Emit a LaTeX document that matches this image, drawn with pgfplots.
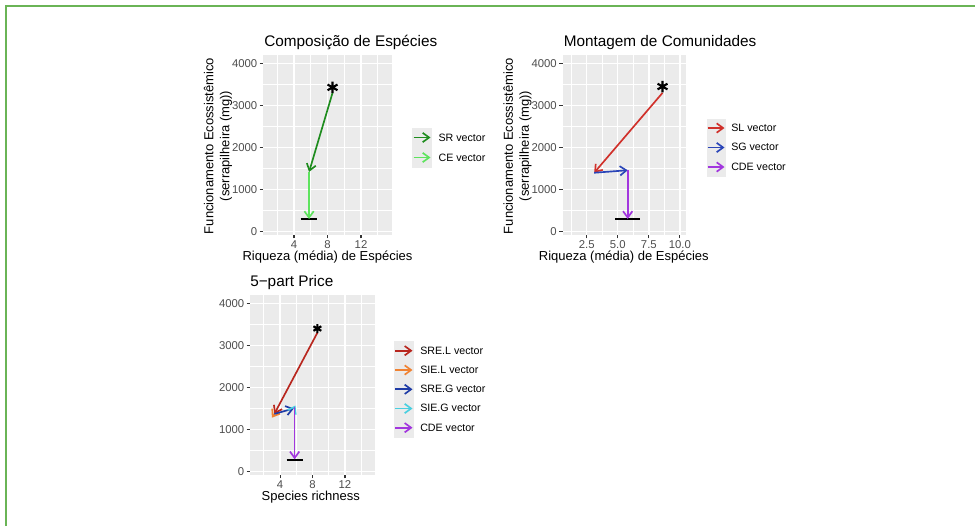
\documentclass[border=0pt]{standalone}
\usepackage{pgfplots}
\pgfplotsset{compat=1.18}
\usepackage{fontspec}
\setmainfont{Liberation Sans}
\usetikzlibrary{arrows.meta}

\definecolor{panelbg}{HTML}{EBEBEB}
\definecolor{ticktext}{HTML}{4D4D4D}
\definecolor{tickmark}{HTML}{333333}
\definecolor{framegreen}{RGB}{106,180,86}
\definecolor{srgreen}{HTML}{1E8C1E}
\definecolor{cegreen}{HTML}{5EE35E}
\definecolor{slred}{HTML}{D0302A}
\definecolor{sgblue}{HTML}{2A45B8}
\definecolor{cdepurple}{HTML}{A236DE}
\definecolor{srelred}{HTML}{B8261E}
\definecolor{sielorange}{HTML}{F08232}
\definecolor{sregblue}{HTML}{1F3CA6}
\definecolor{siegcyan}{HTML}{48CFE0}

\tikzset{vec/.style={line width=1.25pt,-{Straight Barb[length=4.8pt,width=7pt]}}}

\pgfplotsset{
  ggpanel/.style={
    scale only axis, anchor=north west, height=135pt,
    ymin=-80, ymax=4200,
    ytick={0,1000,2000,3000,4000}, yticklabels={0,1000,2000,3000,4000},
    minor ytick={500,1500,2500,3500},
    axis background/.style={fill=panelbg},
    axis line style={draw=none},
    grid=both,
    major grid style={draw=white, line width=1pt},
    minor grid style={draw=white, line width=0.5pt},
    tick align=outside, xtick pos=bottom, ytick pos=left,
    major tick length=2.6pt, minor tick length=0pt,
    tick style={draw=tickmark, line width=0.8pt},
    tick label style={font=\fontsize{8.5}{10}\selectfont, text=ticktext},
    yticklabel style={inner sep=0pt, xshift=-1.5pt},
    xticklabel style={inner sep=0pt, yshift=-1.5pt},
  },
  star/.style={only marks, mark=asterisk, mark size=#1,
    mark options={line width=1.6pt, draw=black}},
  floor/.style={black, line width=1.4pt},
}

\begin{document}
\begin{tikzpicture}

% ---- Composicao de Especies ----
\begin{axis}[ggpanel, at={(197.25pt,-41.25pt)}, width=96.75pt,
  xmin=0.3, xmax=15.7, xtick={4,8,12}, xticklabels={4,8,12},
  minor xtick={2,6,10,14}]
  \addplot[floor] coordinates {(4.8,300) (6.8,300)};
  \addplot[vec, srgreen] coordinates {(8.6,3300) (5.8,1420)};
  \addplot[vec, cegreen] coordinates {(5.8,1420) (5.8,300)};
  \addplot[star=4.3pt] coordinates {(8.6,3430)};
\end{axis}

% ---- Montagem de Comunidades ----
\begin{axis}[ggpanel, at={(421.875pt,-41.25pt)}, width=92.25pt,
  xmin=0.55, xmax=10.45, xtick={2.5,5,7.5,10}, xticklabels={2.5,5.0,7.5,10.0},
  minor xtick={1.25,3.75,6.25,8.75}]
  \addplot[floor] coordinates {(4.8,300) (6.8,300)};
  \addplot[vec, slred] coordinates {(8.6,3300) (3.1,1400)};
  \addplot[vec, sgblue] coordinates {(3.1,1400) (5.8,1460)};
  \addplot[vec, cdepurple] coordinates {(5.8,1460) (5.8,300)};
  \addplot[star=4.3pt] coordinates {(8.6,3450)};
\end{axis}

% ---- 5-part Price ----
\begin{axis}[ggpanel, at={(187.5pt,-221.175pt)}, width=93.75pt,
  xmin=0.3, xmax=15.7, xtick={4,8,12}, xticklabels={4,8,12},
  minor xtick={2,6,10,14}]
  \addplot[floor] coordinates {(4.8,280) (6.8,280)};
  \addplot[vec, srelred] coordinates {(8.6,3300) (3.3,1370)};
  \addplot[vec, sielorange] coordinates {(3.3,1370) (3.0,1280)};
  \addplot[vec, sregblue] coordinates {(3.3,1370) (5.7,1500)};
  \addplot[vec, siegcyan] coordinates {(5.7,1500) (5.9,1570)};
  \addplot[vec, cdepurple] coordinates {(5.8,1530) (5.8,290)};
  \addplot[star=3.4pt] coordinates {(8.6,3400)};
\end{axis}

\begin{scope}[x=0.75pt, y=-0.75pt]
  \path[use as bounding box] (0,0) rectangle (975,526);
  \draw[framegreen, line width=1.3pt] (6,526) -- (6,6) -- (975,6);

  % titles
  \begin{scope}[every node/.style={inner sep=0pt, font=\fontsize{11.5}{13}\selectfont}]
    \node[anchor=base west] at (264,46) {Composição de Espécies};
    \node[anchor=base west] at (563.5,46) {Montagem de Comunidades};
    \node[anchor=base west] at (250,286) {5−part Price};
  \end{scope}

  % axis titles
  \begin{scope}[every node/.style={inner sep=0pt, font=\fontsize{9.75}{12}\selectfont}]
    \node[anchor=base] at (327.5,260) {Riqueza (média) de Espécies};
    \node[anchor=base] at (623.8,260) {Riqueza (média) de Espécies};
    \node[anchor=base] at (310.8,500) {Species richness};
    \node[rotate=90, align=center] at (218,146) {Funcionamento Ecossistêmico\\(serrapilheira (mg))};
    \node[rotate=90, align=center] at (517.5,146) {Funcionamento Ecossistêmico\\(serrapilheira (mg))};
  \end{scope}

  % legends
  \begin{scope}[every node/.style={inner sep=0pt, anchor=base west, font=\fontsize{8}{10}\selectfont}]
    \fill[panelbg] (412.3,127.7) rectangle (431.7,167.7);
    \draw[vec, srgreen] (413.5,137.5) -- (430.5,137.5);
    \draw[vec, cegreen] (413.5,157.5) -- (430.5,157.5);
    \node at (438.3,141) {SR vector};
    \node at (438.3,161) {CE vector};

    \fill[panelbg] (706.5,118.5) rectangle (725.7,177);
    \draw[vec, slred] (707.5,128) -- (724.5,128);
    \draw[vec, sgblue] (707.5,147.5) -- (724.5,147.5);
    \draw[vec, cdepurple] (707.5,167) -- (724.5,167);
    \node at (731,131.3) {SL vector};
    \node at (731,150.8) {SG vector};
    \node at (731,170.3) {CDE vector};

    \fill[panelbg] (394,341) rectangle (413.5,437.5);
    \draw[vec, srelred] (395,350.7) -- (412.5,350.7);
    \draw[vec, sielorange] (395,370) -- (412.5,370);
    \draw[vec, sregblue] (395,389.3) -- (412.5,389.3);
    \draw[vec, siegcyan] (395,408.5) -- (412.5,408.5);
    \draw[vec, cdepurple] (395,427.7) -- (412.5,427.7);
    \node at (420,354) {SRE.L vector};
    \node at (420,373.3) {SIE.L vector};
    \node at (420,392.6) {SRE.G vector};
    \node at (420,411.8) {SIE.G vector};
    \node at (420,431) {CDE vector};
  \end{scope}
\end{scope}

\end{tikzpicture}
\end{document}
